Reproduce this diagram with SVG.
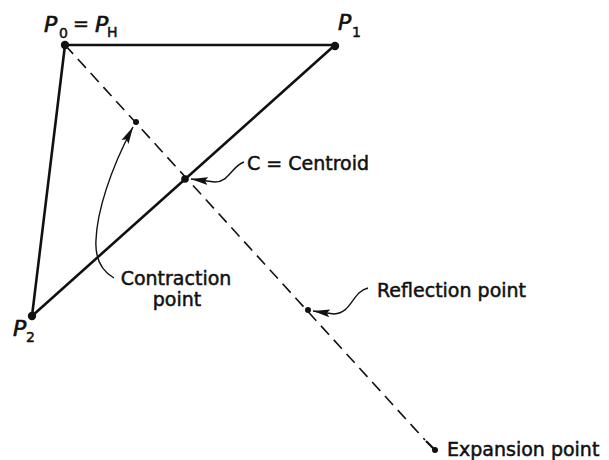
<svg xmlns="http://www.w3.org/2000/svg" width="609" height="460" viewBox="0 0 609 460">
<style>
.lbl{font-family:"DejaVu Sans","Liberation Sans",sans-serif;font-size:19px;fill:#111;stroke:#111;stroke-width:0.5}
.pl{font-family:"DejaVu Sans","Liberation Sans",sans-serif;font-style:italic;font-size:22px;fill:#111;stroke:#111;stroke-width:0.7}
.sub{font-family:"DejaVu Sans","Liberation Sans",sans-serif;font-size:14px;fill:#111;stroke:#111;stroke-width:0.5}
.edge{stroke:#111;stroke-width:2.6;fill:none;stroke-linecap:round}
.dash{stroke:#111;stroke-width:1.6;fill:none;stroke-dasharray:12 7}
.ptr{stroke:#111;stroke-width:1.4;fill:none;marker-end:url(#ah)}
.dot{fill:#111}
</style>
<defs>
<marker id="ah" markerUnits="userSpaceOnUse" markerWidth="18" markerHeight="10" refX="17" refY="5" orient="auto">
<path d="M0,1 L17,5 L0,9 L3,5 z" fill="#111"/>
</marker>
</defs>
<g id="connectors">
<line class="edge" x1="65" y1="45" x2="335" y2="45"/>
<line class="edge" x1="335" y1="45" x2="32" y2="316"/>
<line class="edge" x1="65" y1="45" x2="32" y2="316" stroke-width="3.2"/>
<line class="dash" x1="65" y1="45" x2="425" y2="440"/>
<line x1="426" y1="441" x2="435" y2="450" stroke="#111" stroke-width="2.2"/>
<path class="ptr" d="M114,278 C100,270 95,256 96,240 C97,212 110,170 133,127"/>
<path class="ptr" d="M244,162 C232,166 229,182 215,182 L191,179"/>
<path class="ptr" d="M368,288 C352,292 352,313 334,314 L313,311"/>
</g>
<g id="P0">
<circle class="dot" cx="65" cy="45" r="4.2"/>
<text class="pl" x="44" y="32">P</text>
<text class="sub" x="59" y="38">0</text>
<text class="lbl" x="73" y="30" font-size="16">=</text>
<text class="pl" x="95" y="32">P</text>
<text class="sub" x="107" y="37" font-size="12">H</text>
</g>
<g id="P1">
<circle class="dot" cx="335" cy="46" r="4.2"/>
<text class="pl" x="338" y="30">P</text>
<text class="sub" x="352" y="37">1</text>
</g>
<g id="P2">
<circle class="dot" cx="32" cy="316" r="4.2"/>
<text class="pl" x="13" y="336">P</text>
<text class="sub" x="26" y="342">2</text>
</g>
<g id="centroid">
<circle class="dot" cx="185" cy="179" r="3.8"/>
<text class="lbl" x="247" y="170">C = Centroid</text>
</g>
<g id="contraction">
<circle class="dot" cx="136" cy="122" r="3"/>
<text class="lbl" x="176" y="285" text-anchor="middle">Contraction</text>
<text class="lbl" x="177" y="306" text-anchor="middle">point</text>
</g>
<g id="reflection">
<circle class="dot" cx="308" cy="310" r="3"/>
<text class="lbl" x="377" y="297" font-size="18.3">Reflection point</text>
</g>
<g id="expansion">
<circle class="dot" cx="435" cy="450" r="3"/>
<text class="lbl" x="447" y="456">Expansion point</text>
</g>
</svg>
